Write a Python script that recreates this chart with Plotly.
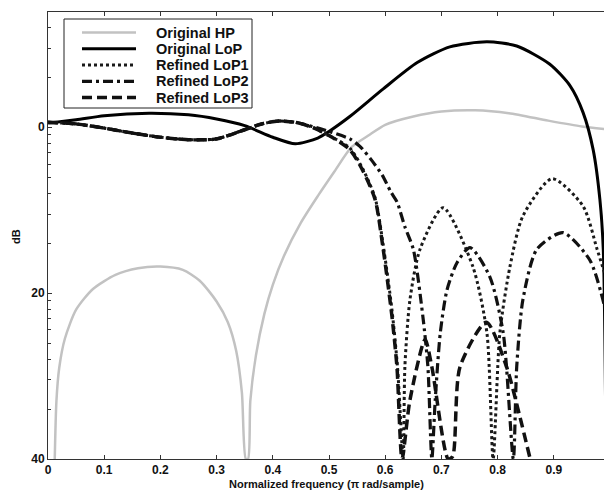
import math
import plotly.graph_objects as go

# ---------------- data (normalized frequency, dB) ----------------
hp_f = [0.012, 0.015, 0.02, 0.03, 0.05, 0.08, 0.12, 0.16, 0.20, 0.24, 0.27, 0.30, 0.32,
        0.335, 0.345, 0.352, 0.356, 0.36, 0.37, 0.385, 0.40, 0.42, 0.45, 0.48, 0.51, 0.54,
        0.57, 0.60, 0.65, 0.70, 0.76, 0.82, 0.89, 0.95, 0.99]
hp_db = [-40, -33, -29, -25.5, -22, -19.5, -17.8, -17.0, -16.8, -17.2, -18.5, -21, -23.5,
         -27, -32, -40, -40, -33, -27.5, -22.5, -19, -15.5, -11.5, -8.3, -5.3, -2.4,
         -1.0, 0.3, 1.3, 1.9, 2.05, 1.7, 0.8, 0.1, -0.2]

lop_f = [0.0, 0.05, 0.10, 0.18, 0.25, 0.30, 0.35, 0.40, 0.44, 0.48, 0.50, 0.537, 0.596,
         0.657, 0.715, 0.781, 0.834, 0.893, 0.929, 0.952, 0.970, 0.982, 0.988, 0.993]
lop_db = [0.5, 0.9, 1.4, 1.7, 1.5, 1.0, 0.2, -1.2, -2.0, -1.3, -0.5, 1.3, 4.6,
          7.8, 9.7, 10.3, 9.8, 7.6, 5.0, 1.8, -2.7, -8.7, -14.7, -40]

lop1_f = [0.0, 0.05, 0.10, 0.15, 0.20, 0.25, 0.30, 0.35, 0.38, 0.41, 0.44, 0.47, 0.50,
          0.537, 0.56, 0.582, 0.596, 0.612, 0.622, 0.632, 0.635, 0.644, 0.662, 0.703,
          0.756, 0.781, 0.792, 0.804, 0.822, 0.845, 0.897, 0.952, 0.977, 0.99]
lop1_db = [0.6, 0.4, -0.1, -0.7, -1.2, -1.5, -1.4, -0.3, 0.4, 0.75, 0.6, 0.0, -1.0,
           -2.5, -5.0, -8.5, -14.0, -22.0, -29.0, -40, -28.9, -20.8, -14.7, -9.7,
           -16.8, -24.8, -40, -24.8, -16.8, -10.7, -6.2, -9.5, -14.7, -17.5]

lop2_f = [0.0, 0.05, 0.10, 0.15, 0.20, 0.25, 0.30, 0.35, 0.38, 0.41, 0.44, 0.47, 0.50,
          0.537, 0.555, 0.575, 0.595, 0.61, 0.621, 0.635, 0.65, 0.667, 0.676, 0.683,
          0.689, 0.698, 0.71, 0.728, 0.751, 0.786, 0.81, 0.828, 0.834, 0.845, 0.87,
          0.916, 0.964, 0.99]
lop2_db = [0.6, 0.4, -0.1, -0.7, -1.2, -1.5, -1.4, -0.3, 0.4, 0.75, 0.6, 0.1, -0.5,
           -1.4, -2.3, -3.9, -5.8, -7.8, -9.0, -12.0, -14.7, -22.8, -28.9, -40,
           -32.9, -24.8, -19.6, -16.3, -14.5, -18.0, -24.8, -40, -28.9, -20.8, -14.7,
           -12.7, -16.0, -21.5]

lop3_f = [0.0, 0.05, 0.10, 0.15, 0.20, 0.25, 0.30, 0.35, 0.38, 0.41, 0.44, 0.47, 0.50,
          0.537, 0.56, 0.582, 0.596, 0.612, 0.621, 0.630, 0.644, 0.671, 0.683, 0.712,
          0.72, 0.733, 0.78, 0.816, 0.84, 0.858]
lop3_db = [0.6, 0.4, -0.1, -0.7, -1.2, -1.5, -1.4, -0.3, 0.4, 0.75, 0.6, 0.0, -1.0,
           -2.7, -5.2, -8.7, -14.5, -22.8, -29.0, -40, -32.9, -25.6, -28.9, -40,
           -39.7, -28.9, -23.5, -28.9, -35.0, -40]

series_names = ["Original HP", "Original LoP", "Refined LoP1", "Refined LoP2", "Refined LoP3"]

x_tick_vals = [0, 0.1, 0.2, 0.3, 0.4, 0.5, 0.6, 0.7, 0.8, 0.9]
x_tick_text = ["0", "0.1", "0.2", "0.3", "0.4", "0.5", "0.6", "0.7", "0.8", "0.9"]
y_tick_vals = [0, -20, -40]
y_tick_text = ["0", "20", "40"]

x_title = "Normalized frequency (π rad/sample)"
y_title = "dB"

# ---------------- styles ----------------
styles = [
    dict(color="#c2c2c2", width=2.5, dash="solid"),
    dict(color="#000000", width=3, dash="solid"),
    dict(color="#1a1a1a", width=3, dash="3px,3px"),
    dict(color="#111111", width=3.2, dash="10px,4px,3px,4px"),
    dict(color="#111111", width=3.5, dash="10px,5px"),
]

fig = go.Figure()
all_data = [(hp_f, hp_db), (lop_f, lop_db), (lop1_f, lop1_db), (lop2_f, lop2_db), (lop3_f, lop3_db)]
for (fx, fy), name, st in zip(all_data, series_names, styles):
    fig.add_trace(go.Scatter(x=fx, y=fy, mode="lines", name=name, showlegend=False,
                             line=dict(color=st["color"], width=st["width"], dash=st["dash"],
                                       shape="spline", smoothing=0.7)))

# plot area in pixels
L, T, B = 48, 12, 459
W, H = 604, 494
PW, PH = W - L, B - T

def px(x):
    return (x - L) / PW

def py(y):
    return (B - y) / PH

# minor ticks at magnitude-like positions
minor_y = [20 * math.log10(m) for m in [4, 3, 2, 0.9, 0.8, 0.7, 0.6, 0.5, 0.4, 0.3, 0.2,
                                        0.09, 0.08, 0.07, 0.06, 0.05, 0.04, 0.03, 0.02]]

FONT = "Liberation Sans, Arial, sans-serif"

# manual legend box
shapes = [dict(type="rect", xref="paper", yref="paper", x0=px(64), x1=px(252), y0=py(108), y1=py(19),
               line=dict(color="#222", width=1), fillcolor="white", layer="above")]
annotations = []
row_y = [32.5, 48.8, 65, 81.3, 97.5]
for ry, name, st in zip(row_y, series_names, styles):
    shapes.append(dict(type="line", xref="paper", yref="paper", x0=px(82), x1=px(136),
                       y0=py(ry), y1=py(ry), layer="above",
                       line=dict(color=st["color"], width=st["width"], dash=st["dash"])))
    annotations.append(dict(xref="paper", yref="paper", x=px(154), y=py(ry), xanchor="left",
                            yanchor="middle", showarrow=False, text=name,
                            font=dict(family=FONT, size=14.5, color="#111", weight="bold")))

# axis titles as annotations for exact placement
annotations.append(dict(xref="paper", yref="paper", x=px(326), y=py(484), xanchor="center",
                        yanchor="middle", showarrow=False, text=x_title,
                        font=dict(family=FONT, size=11, color="#111", weight="bold")))
annotations.append(dict(xref="paper", yref="paper", x=px(16), y=py(237), xanchor="center",
                        yanchor="middle", showarrow=False, text=y_title, textangle=-90,
                        font=dict(family=FONT, size=11, color="#111", weight="bold")))

fig.update_layout(
    width=W, height=H,
    margin=dict(l=L, r=0, t=T, b=H - B),
    paper_bgcolor="white", plot_bgcolor="white",
    showlegend=False,
    shapes=shapes, annotations=annotations,
    font=dict(family=FONT, color="#111"),
    xaxis=dict(range=[0, (W - L) / 562.0], tickvals=x_tick_vals, ticktext=x_tick_text,
               ticks="inside", ticklen=4, tickcolor="#333", showline=True, linecolor="#333",
               linewidth=1, mirror="ticks", showgrid=False, zeroline=False,
               tickfont=dict(family=FONT, size=12, weight="bold", color="#111")),
    yaxis=dict(range=[-40, 13.9], tickvals=y_tick_vals, ticktext=y_tick_text,
               ticks="inside", ticklen=4, tickcolor="#333", showline=True, linecolor="#333",
               linewidth=1, showgrid=False, zeroline=False,
               minor=dict(tickvals=minor_y, ticks="inside", ticklen=3, tickcolor="#333", showgrid=False),
               tickfont=dict(family=FONT, size=12, weight="bold", color="#111")),
)

fig.write_html("out.html", config={"displayModeBar": False},
               post_script="document.body.style.margin='0';document.body.style.overflow='hidden';")
